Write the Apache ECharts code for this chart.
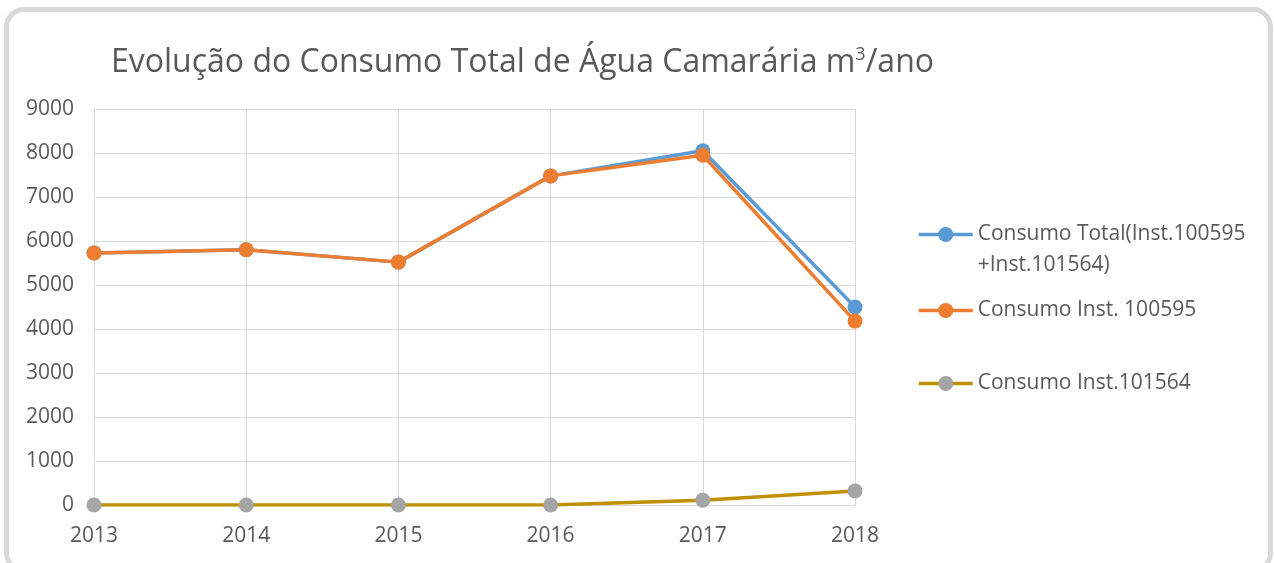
<!DOCTYPE html>
<html>
<head>
<meta charset="utf-8">
<script src="https://cdn.jsdelivr.net/npm/echarts@6.0.0/dist/echarts.min.js"></script>
<style>
  html, body { margin: 0; padding: 0; background: #fff; overflow: hidden; }
  #frame {
    position: absolute; left: 4px; top: 7px; width: 1259px; height: 556px;
    border: 5px solid #d9d9d9; border-radius: 20px; box-sizing: content-box;
  }
  #chart { position: absolute; left: 0; top: 0; width: 1274px; height: 563px; }
</style>
</head>
<body>
<div id="frame"></div>
<div id="chart"></div>
<script>
const years = ['2013', '2014', '2015', '2016', '2017', '2018'];
const totalValues = [5730, 5800, 5520, 7480, 8050, 4500];
const inst100595 = [5730, 5800, 5520, 7480, 7950, 4180];
const inst101564 = [0, 0, 0, 0, 110, 320];

const seriesNames = [
  'Consumo Total(Inst.100595 +Inst.101564)',
  'Consumo Inst. 100595',
  'Consumo Inst.101564',
];

const textColor = '#595959';
const fontFamily = '"Open Sans", "Noto Sans", sans-serif';

const chart = echarts.init(document.getElementById('chart'));

const legendBase = {
  orient: 'vertical',
  left: 917,
  padding: 0,
  itemWidth: 54,
  itemHeight: 19,
  itemGap: 0,
  selectedMode: false,
  lineStyle: { width: 3.5 },
  textStyle: { color: textColor, fontSize: 21, fontFamily, lineHeight: 31 },
};

const option = {
  animation: false,
  title: {
    text: 'Evolução do Consumo Total de Água Camarária m{sup|3}/ano',
    left: 106,
    top: 41,
    textStyle: {
      color: textColor,
      fontSize: 32,
      fontWeight: 'normal',
      fontFamily,
      rich: {
        sup: { fontSize: 18, verticalAlign: 'top', color: textColor, fontFamily, padding: [0, 0, 16, 0] },
      },
    },
  },
  legend: [
    { ...legendBase, top: 188, data: [seriesNames[0]],
      formatter: () => '\nConsumo Total(Inst.100595\n+Inst.101564)' },
    { ...legendBase, top: 295, data: [seriesNames[1]] },
    { ...legendBase, top: 368, data: [seriesNames[2]] },
  ],
  grid: { left: 94, right: 419, top: 109, bottom: 58 },
  xAxis: {
    type: 'category',
    boundaryGap: false,
    data: years,
    axisLine: { lineStyle: { color: '#d9d9d9' } },
    axisTick: { show: false },
    axisLabel: { color: textColor, fontSize: 21, fontFamily, margin: 21 },
    splitLine: { show: true, lineStyle: { color: '#d9d9d9' } },
  },
  yAxis: {
    type: 'value',
    min: 0,
    max: 9000,
    interval: 1000,
    axisLine: { show: false },
    axisTick: { show: false },
    axisLabel: { color: textColor, fontSize: 21, fontFamily, margin: 20, formatter: (v) => String(v) },
    splitLine: { lineStyle: { color: '#d9d9d9' } },
  },
  series: [
    {
      name: seriesNames[0], type: 'line', data: totalValues,
      symbol: 'circle', symbolSize: 15,
      lineStyle: { color: '#5b9bd5', width: 3.5 },
      itemStyle: { color: '#5b9bd5' },
    },
    {
      name: seriesNames[1], type: 'line', data: inst100595,
      symbol: 'circle', symbolSize: 15,
      lineStyle: { color: '#ed7d31', width: 3.5 },
      itemStyle: { color: '#ed7d31' },
    },
    {
      name: seriesNames[2], type: 'line', data: inst101564,
      symbol: 'circle', symbolSize: 15,
      lineStyle: { color: '#bf9000', width: 3.5 },
      itemStyle: { color: '#a5a5a5' },
    },
  ],
};

chart.setOption(option);
</script>
</body>
</html>
